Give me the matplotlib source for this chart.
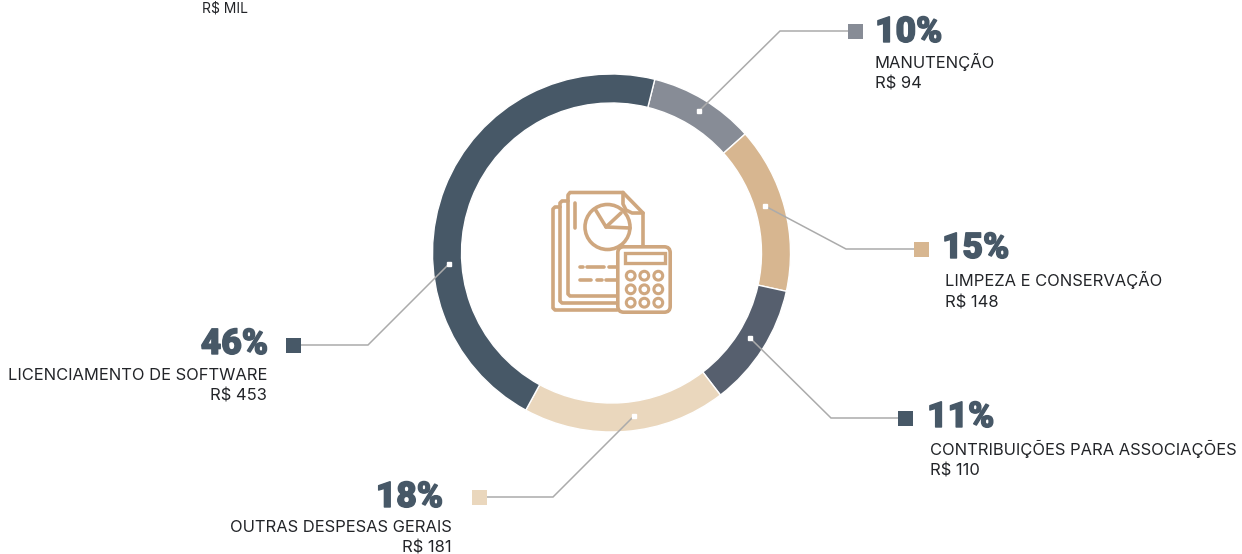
import matplotlib
matplotlib.use("Agg")
import matplotlib.pyplot as plt
import matplotlib.patheffects as pe
from matplotlib.patches import Circle, FancyBboxPatch, Rectangle

# =========================
# Data
# =========================
categories = ["MANUTENÇÃO", "LIMPEZA E CONSERVAÇÃO", "CONTRIBUIÇÕES PARA ASSOCIAÇÕES",
              "OUTRAS DESPESAS GERAIS", "LICENCIAMENTO DE SOFTWARE"]
values = [94, 148, 110, 181, 453]
percents = ["10%", "15%", "11%", "18%", "46%"]
colors = ["#878C96", "#D7B690", "#565F6E", "#EAD7BD", "#475867"]
key_colors = ["#878C96", "#D7B690", "#475867", "#EAD7BD", "#475867"]

# =========================
# Canvas in pixel units, y measured from the top
# =========================
W, H = 1242, 554
fig = plt.figure(figsize=(W / 100, H / 100), dpi=100)
ax = fig.add_axes([0, 0, 1, 1])


def py(y):
    return H - y


FONT = "Inter"
PCT_FONT = "Roboto"
DARK_TEXT = "#222428"
PCT_COLOR = "#475867"
LINE_COLOR = "#ABABAB"
ICON_COLOR = "#CFA77F"

# =========================
# Donut
# =========================
ax.pie(values, colors=colors, startangle=76, counterclock=False,
       center=(611.5, py(253)), radius=179,
       wedgeprops=dict(width=29, edgecolor="white", linewidth=1.0))
ax.set_xlim(0, W)
ax.set_ylim(0, H)
ax.set_aspect("equal")
ax.axis("off")

# =========================
# Callouts: leader line, square key, text block
# =========================
leaders = [
    [(699, 111), (780, 31), (848, 31)],
    [(765, 206), (846, 249), (914, 249)],
    [(750, 338), (831, 418), (898, 418)],
    [(634, 416), (553, 497), (486, 497)],
    [(449, 264), (368, 345), (300, 345)],
]
squares = [(855, 31), (921, 249), (905, 418), (479, 497), (293, 345)]
# x of the percent, x of the label, baselines of percent, label and amount, alignment
text_pos = [
    (875, 875, 42, 68, 89, "left"),
    (942, 945, 258, 286, 307.5, "left"),
    (927, 930, 427, 455, 475.5, "left"),
    (443, 452, 507, 532, 553, "right"),
    (268, 267, 354, 380, 401, "right"),
]

for i in range(len(values)):
    xs = [p[0] for p in leaders[i]]
    ys = [py(p[1]) for p in leaders[i]]
    ax.plot(xs, ys, color=LINE_COLOR, lw=1.1, solid_joinstyle="miter", zorder=3)
    ax.add_patch(Rectangle((xs[0] - 2, ys[0] - 2), 4, 4, color="white", zorder=4))

    sx, sy = squares[i]
    ax.add_patch(Rectangle((sx - 7.5, py(sy) - 7.5), 15, 15, color=key_colors[i], lw=0, zorder=4))

    x_pct, x_lab, y_pct, y_lab, y_val, ha = text_pos[i]
    ax.text(x_pct, py(y_pct), percents[i], family=PCT_FONT, weight="black", fontsize=25.5,
            color=PCT_COLOR, ha=ha, va="baseline",
            path_effects=[pe.withStroke(linewidth=1.0, foreground=PCT_COLOR)])
    ax.text(x_lab, py(y_lab), categories[i], family=FONT, fontsize=11.9,
            color=DARK_TEXT, ha=ha, va="baseline")
    ax.text(x_lab, py(y_val), f"R$ {values[i]}", family=FONT, fontsize=11.9,
            color=DARK_TEXT, ha=ha, va="baseline")

ax.text(202, py(13), "R$ MIL", family=FONT, fontsize=10, color=DARK_TEXT, ha="left", va="baseline")


# =========================
# Centre icon: stacked pages and calculator
# =========================
def icon_line(pts, lw=2.6):
    ax.plot([p[0] for p in pts], [py(p[1]) for p in pts], color=ICON_COLOR, lw=lw,
            solid_capstyle="round", solid_joinstyle="round", zorder=5)


icon_line([(617, 310), (555, 310), (553, 308), (553, 209), (555, 207), (560, 207)])
icon_line([(617, 303), (562, 303), (560, 301), (560, 203), (562, 201), (568, 201)])
icon_line([(617, 296), (570, 296), (568, 294), (568, 195), (570, 192.5), (623, 192.5),
           (643, 213), (643, 247)])
icon_line([(623, 192.5), (623, 204), (626, 210), (632, 213), (643, 213)])
icon_line([(575, 203), (575, 228)])

# pie symbol on the page
ax.add_patch(Circle((607.5, py(227)), 22.5, fill=False, ec=ICON_COLOR, lw=2.6, zorder=5))
icon_line([(595, 209), (606, 227), (621, 213)])
icon_line([(606, 227), (630, 228)])

# text rows on the page
icon_line([(580, 267), (583, 267)])
icon_line([(587, 267), (604, 267)])
icon_line([(609, 267), (617, 267)])
icon_line([(580, 280), (591, 280)])
icon_line([(597, 280), (602, 280)])
icon_line([(606, 280), (617, 280)])

# calculator
ax.add_patch(FancyBboxPatch((621, py(309)), 46, 59, boxstyle="round,pad=3.2,rounding_size=6",
                            fc="white", ec=ICON_COLOR, lw=2.6, zorder=5))
ax.add_patch(Rectangle((625, py(262.5)), 40, 10, fill=False, ec=ICON_COLOR, lw=2.4, zorder=6))
for bx in (630.7, 644.3, 658.3):
    for by in (275.7, 289.3, 302.7):
        ax.add_patch(Circle((bx, py(by)), 4.4, fill=False, ec=ICON_COLOR, lw=2.2, zorder=6))

fig.savefig("out.png", dpi=100, facecolor="white")
